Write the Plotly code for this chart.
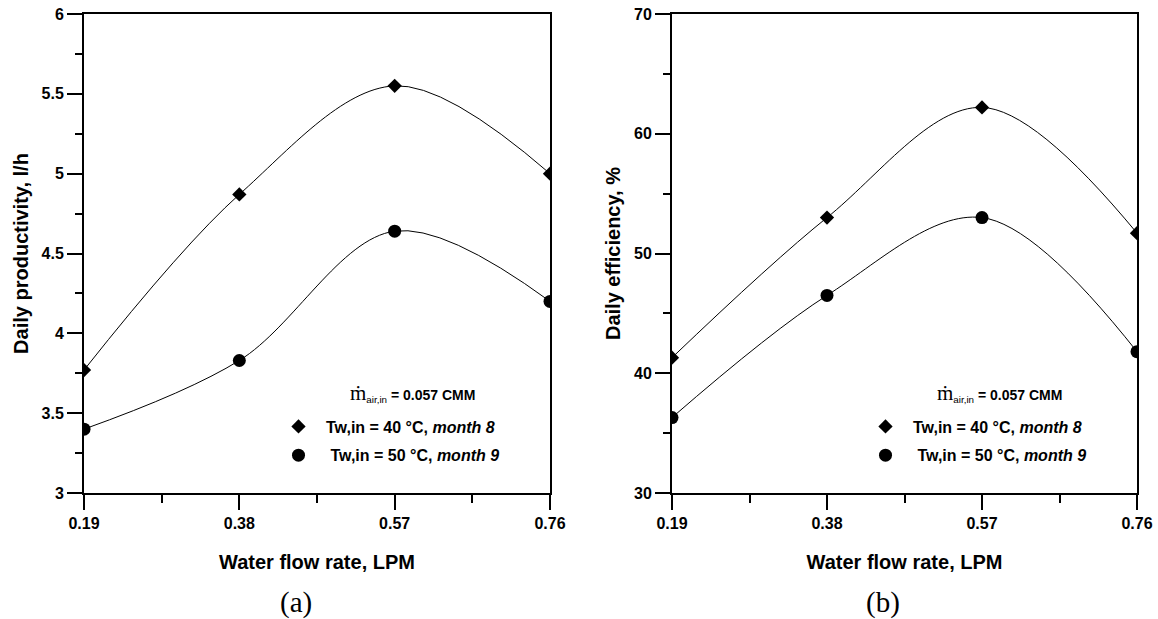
import plotly.graph_objects as go

# ---- data ----
flow = [0.19, 0.38, 0.57, 0.76]
flow_ticks = ["0.19", "0.38", "0.57", "0.76"]
prod_40 = [3.77, 4.87, 5.55, 5.00]
prod_50 = [3.40, 3.83, 4.64, 4.20]
eff_40 = [41.3, 53.0, 62.2, 51.7]
eff_50 = [36.3, 46.5, 53.0, 41.8]
label_40 = "<b>Tw,in = 40 °C, <i>month 8</i></b>"
label_50 = "<b> Tw,in = 50 °C, <i>month 9</i></b>"
air_note = ("<span style='font-family:Liberation Serif;font-size:21px'>ṁ</span>"
            "<sub>air,in</sub><b> = 0.057 CMM</b>")

FONT = "Liberation Sans"
W, H = 1158, 619
ML, MR, MT, MB = 60, 10, 4, 100
PW, PH = W - ML - MR, H - MT - MB


def px_x(p):
    return (p - ML) / PW


def px_y(p):
    return (H - MB - p) / PH


fig = go.Figure()

panels = [
    ("x", "y", prod_40, prod_50, "legend"),
    ("x2", "y2", eff_40, eff_50, "legend2"),
]
for xa, ya, s40, s50, lg in panels:
    for vals, sym, size, name in [(s40, "diamond", 11, label_40), (s50, "circle", 13, label_50)]:
        fig.add_trace(go.Scatter(x=flow, y=vals, mode="lines", xaxis=xa, yaxis=ya,
                                 line=dict(color="black", width=1, shape="spline", smoothing=1.0),
                                 showlegend=False, hoverinfo="skip"))
        fig.add_trace(go.Scatter(x=flow, y=vals, mode="markers", xaxis=xa, yaxis=ya,
                                 marker=dict(symbol=sym, size=size, color="black"),
                                 name=name, legend=lg, legendgroup=name + lg))

tickfont = dict(family=FONT, size=16, color="black", weight="bold")
titlefont = dict(family=FONT, size=20, color="black", weight="bold")


def xaxis(domain):
    return dict(domain=domain, range=[0.19, 0.76], tickmode="array", tickvals=flow, ticktext=flow_ticks,
                ticks="outside", ticklen=15, tickwidth=2, tickcolor="black",
                showline=True, linewidth=2, linecolor="black", mirror=True,
                showgrid=False, zeroline=False, tickfont=tickfont, ticklabeloverflow="allow",
                minor=dict(ticks="outside", ticklen=8, tickwidth=2, tickcolor="black",
                           tickmode="linear", tick0=0.19, dtick=0.095, showgrid=False),
                title=dict(text="Water flow rate, LPM", font=titlefont, standoff=24),
                automargin=False)


def yaxis(domain, rng, dt, mdt, title, anchor):
    return dict(domain=domain, range=rng, tickmode="linear", tick0=rng[0], dtick=dt,
                ticks="outside", ticklen=15, tickwidth=2, tickcolor="black",
                showline=True, linewidth=2, linecolor="black", mirror=True,
                showgrid=False, zeroline=False, tickfont=tickfont, anchor=anchor,
                ticklabeloverflow="allow",
                minor=dict(ticks="outside", ticklen=7, tickwidth=2, tickcolor="black",
                           tickmode="linear", tick0=rng[0], dtick=mdt, showgrid=False),
                title=dict(text=title, font=titlefont, standoff=8),
                automargin=False)


ydom = [px_y(493), px_y(14)]
legfont = dict(family=FONT, size=16, color="black", weight="bold")
fig.update_layout(
    width=W, height=H,
    margin=dict(l=ML, r=MR, t=MT, b=MB),
    paper_bgcolor="white", plot_bgcolor="white",
    xaxis=xaxis([px_x(84), px_x(550)]),
    xaxis2=xaxis([px_x(672), px_x(1137)]) | dict(anchor="y2"),
    yaxis=yaxis(ydom, [3, 6], 0.5, 0.25, "Daily productivity, l/h", "x"),
    yaxis2=yaxis(ydom, [30, 70], 10, 5, "Daily efficiency, %", "x2"),
    legend=dict(x=px_x(271), y=px_y(441), xanchor="left", yanchor="middle",
                bgcolor="rgba(0,0,0,0)", font=legfont,
                tracegroupgap=5, traceorder="grouped", itemwidth=45),
    legend2=dict(x=px_x(858), y=px_y(441), xanchor="left", yanchor="middle",
                 bgcolor="rgba(0,0,0,0)", font=legfont,
                 tracegroupgap=5, traceorder="grouped", itemwidth=45),
    showlegend=True,
)

for lx in (348, 935):
    fig.add_annotation(x=px_x(lx), y=px_y(393), xref="paper", yref="paper", text=air_note,
                       xanchor="left", yanchor="middle", showarrow=False,
                       font=dict(family=FONT, size=14, color="black"))

for cx, lab in ((296, "(a)"), (883, "(b)")):
    fig.add_annotation(x=px_x(cx), y=px_y(602), xref="paper", yref="paper", text=lab,
                       xanchor="center", yanchor="middle", showarrow=False,
                       font=dict(family="Liberation Serif", size=29, color="black"))

fig.write_html("out.html", config={"displayModeBar": False},
               post_script="document.body.style.margin='0px';document.body.style.overflow='hidden';")
